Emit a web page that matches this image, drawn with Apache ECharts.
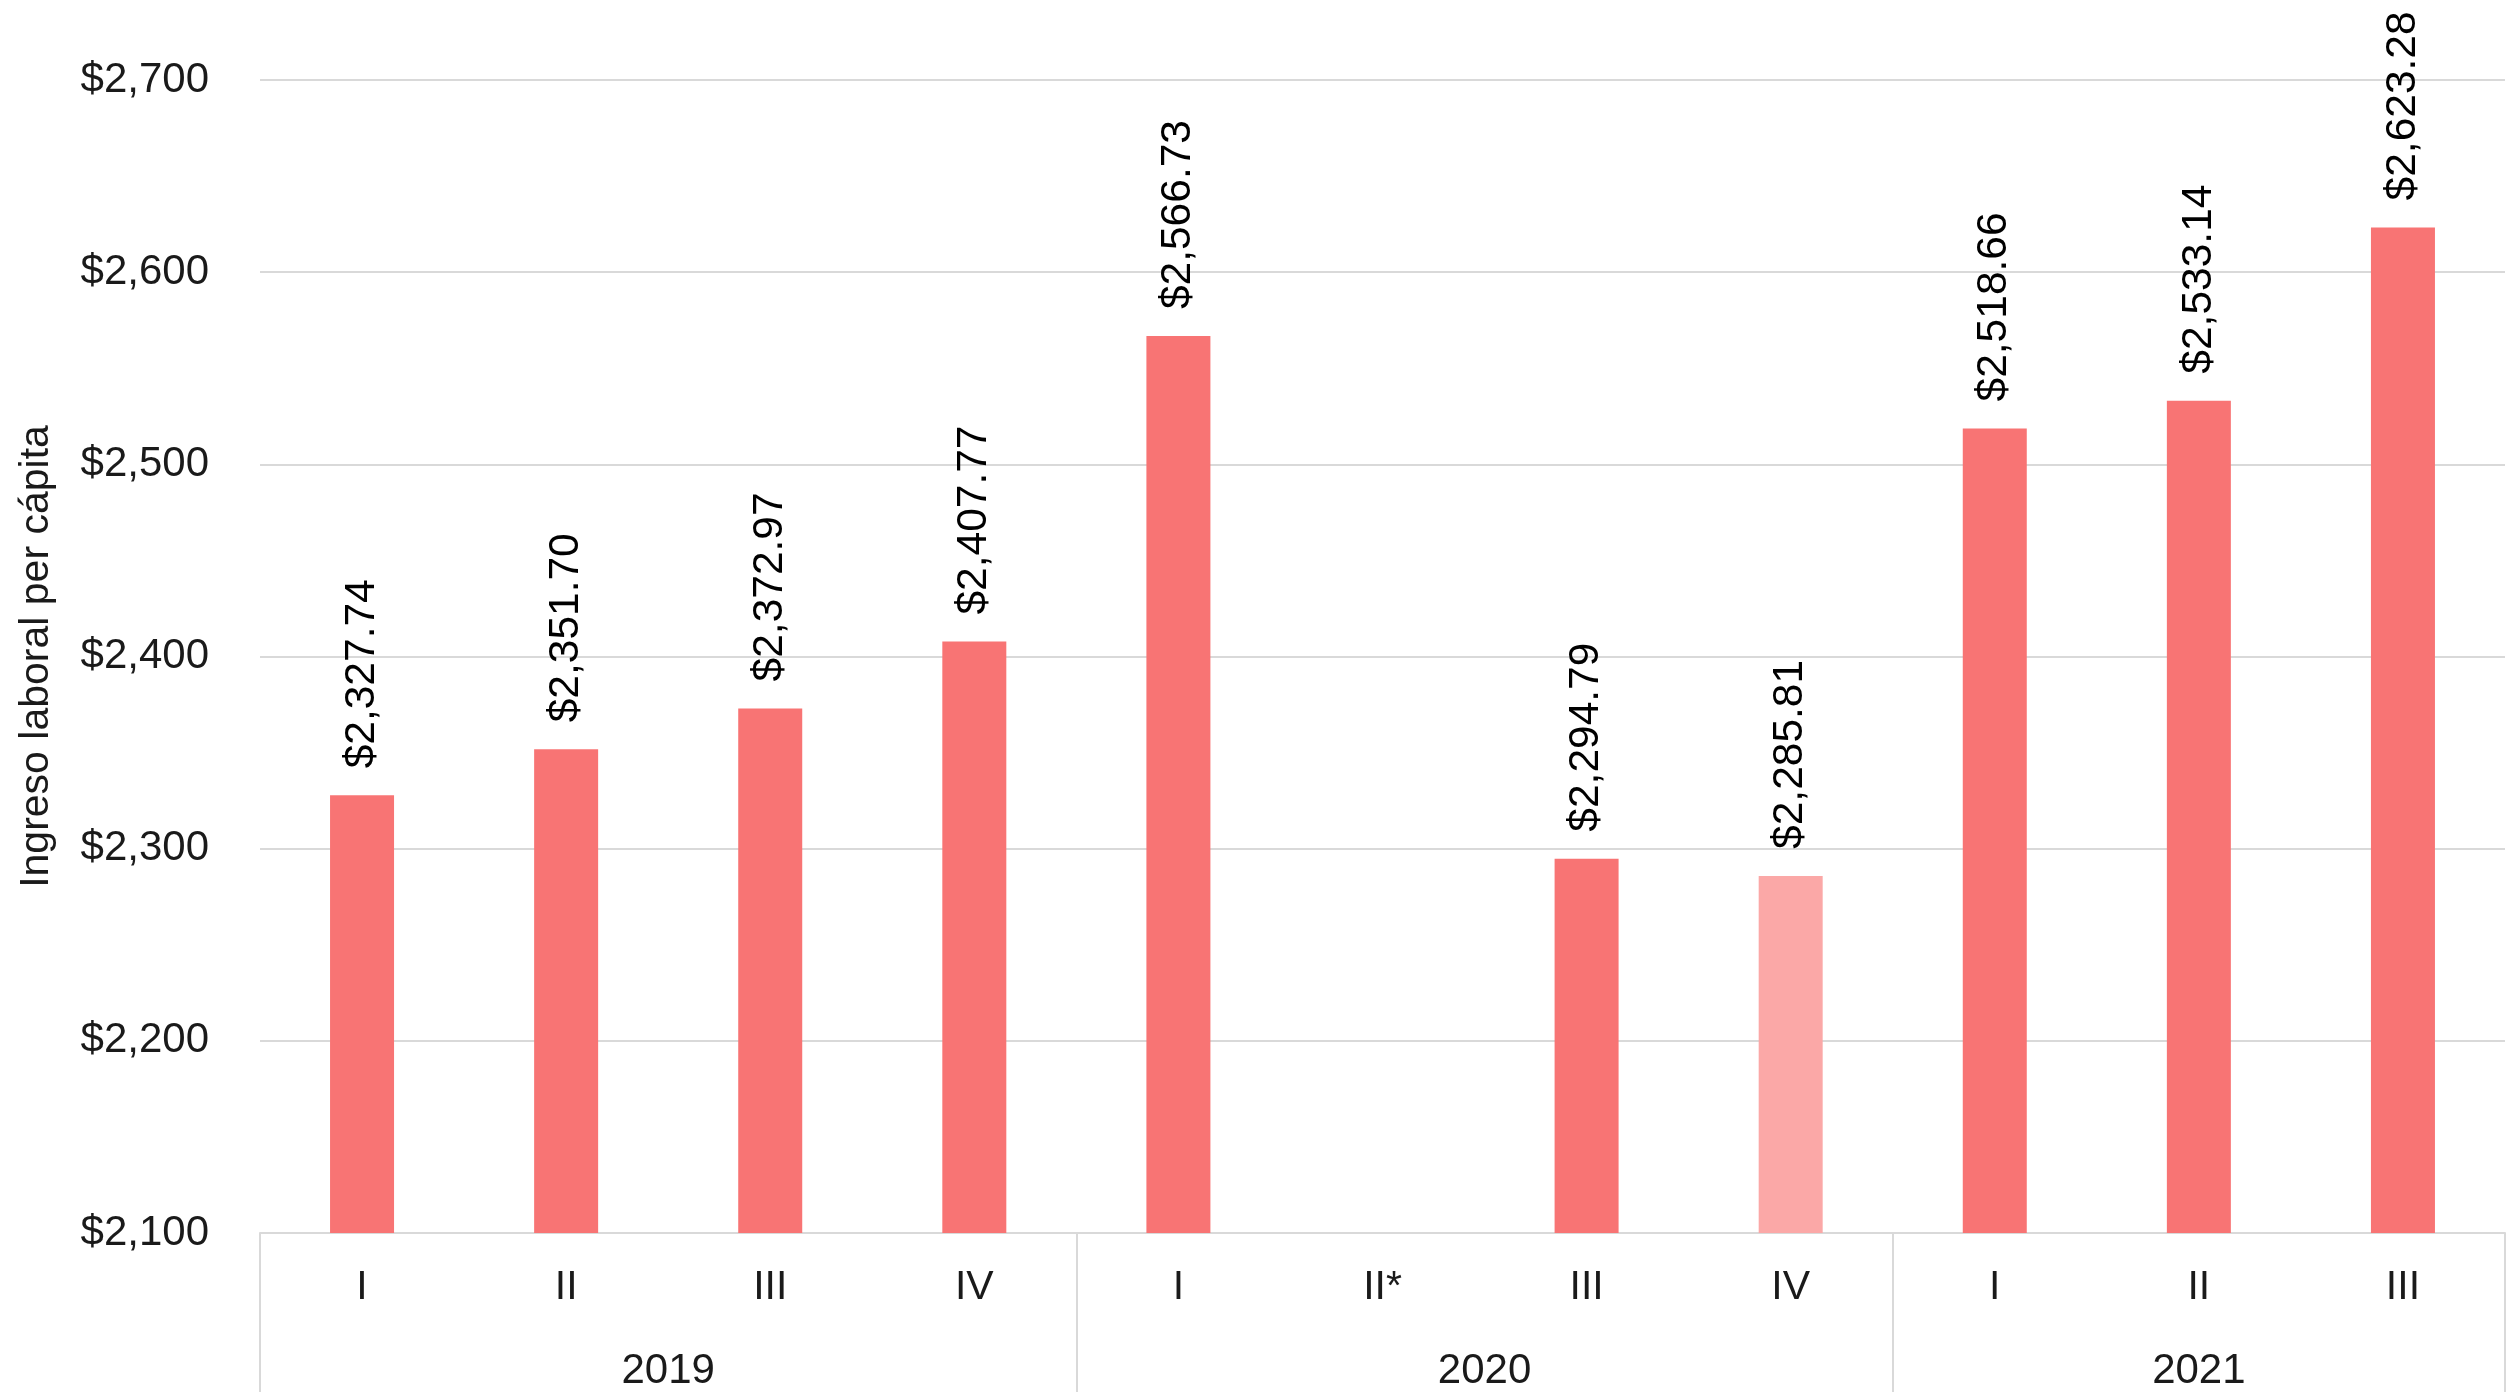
<!DOCTYPE html>
<html>
<head>
<meta charset="utf-8">
<script src="https://cdn.jsdelivr.net/npm/echarts@6/dist/echarts.min.js"></script>
<style>
html,body{margin:0;padding:0;background:#fff;}
#chart{width:2517px;height:1392px;}
</style>
</head>
<body>
<div id="chart"></div>
<script>
// ---- data ----
const quarters = ['I','II','III','IV','I','II*','III','IV','I','II','III'];
const values = [2327.74, 2351.70, 2372.97, 2407.77, 2566.73, null, 2294.79, 2285.81, 2518.66, 2533.14, 2623.28];
const years = ['2019','2020','2021'];
const yearStarts = [0, 4, 8];
const yearEnds = [4, 8, 11];
const yTicks = [2100, 2200, 2300, 2400, 2500, 2600, 2700];
const lightIndex = 7;

const FONT = '"Liberation Sans", Arial, sans-serif';
const BAR = '#F87474';
const BAR_LIGHT = '#FBA8A7';
const GRID = '#d9d9d9';

function money(v, dec) {
  return '$' + Number(v).toLocaleString('en-US', {minimumFractionDigits: dec, maximumFractionDigits: dec});
}

const yearCenters = years.map((y, i) => (yearStarts[i] + yearEnds[i]) / 2);
const yearBounds = [0].concat(yearEnds);

const chart = echarts.init(document.getElementById('chart'), null, {renderer: 'canvas'});
chart.setOption({
  animation: false,
  backgroundColor: '#fff',
  grid: {left: 260, right: 12, top: 80, bottom: 159, containLabel: false},
  xAxis: [
    {
      type: 'category',
      data: quarters,
      position: 'bottom',
      axisLine: {show: true, lineStyle: {color: GRID, width: 2}},
      axisTick: {show: false},
      axisLabel: {fontFamily: FONT, fontSize: 41, color: '#1a1a1a', margin: 34, interval: 0}
    },
    {
      type: 'value',
      min: 0,
      max: quarters.length,
      position: 'bottom',
      axisLine: {show: false},
      splitLine: {show: false},
      axisTick: {show: true, customValues: yearBounds, length: 160, lineStyle: {color: GRID, width: 2}},
      axisLabel: {
        show: true,
        customValues: yearCenters,
        formatter: function (v) {
          const i = yearCenters.indexOf(v);
          return i >= 0 ? years[i] : '';
        },
        fontFamily: FONT, fontSize: 42, color: '#1a1a1a', margin: 117
      }
    }
  ],
  yAxis: {
    type: 'value',
    min: yTicks[0],
    max: yTicks[yTicks.length - 1],
    interval: 100,
    name: 'Ingreso laboral per cápita',
    nameLocation: 'middle',
    nameGap: 203,
    nameTextStyle: {fontFamily: FONT, fontSize: 41, color: '#1a1a1a'},
    axisLine: {show: false},
    axisTick: {show: false},
    splitLine: {show: true, lineStyle: {color: GRID, width: 2}},
    axisLabel: {
      fontFamily: FONT, fontSize: 42, color: '#1a1a1a', margin: 51,
      formatter: v => money(v, 0)
    }
  },
  series: [{
    type: 'bar',
    xAxisIndex: 0,
    barWidth: 64,
    data: values.map((v, i) => ({
      value: v,
      itemStyle: {color: i === lightIndex ? BAR_LIGHT : BAR}
    })),
    label: {
      show: true,
      position: 'top',
      rotate: 90,
      align: 'left',
      verticalAlign: 'middle',
      distance: 27,
      fontFamily: FONT,
      fontSize: 42.5,
      color: '#000',
      formatter: p => (p.value == null ? '' : money(p.value, 2))
    }
  }]
});
</script>
</body>
</html>
